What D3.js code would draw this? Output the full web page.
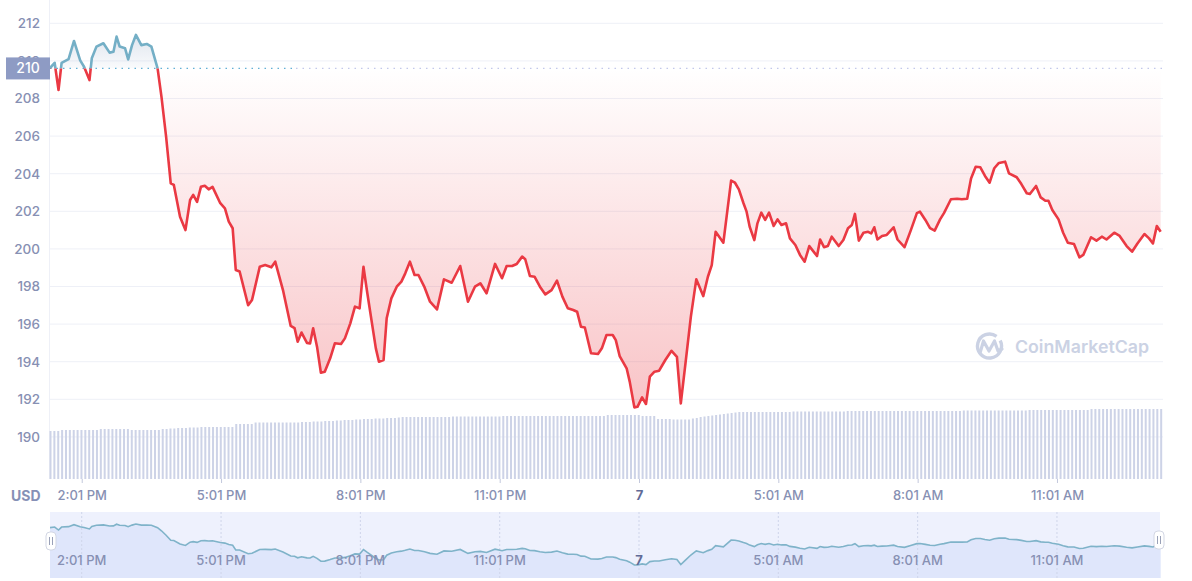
<!DOCTYPE html>
<html><head><meta charset="utf-8">
<script src="https://cdn.jsdelivr.net/npm/d3@7"></script>
<style>
html,body{margin:0;padding:0;background:#fff;}
svg{display:block;font-family:Inter,"Noto Sans",sans-serif;}
</style></head><body>
<svg id="chart" width="1192" height="581"></svg>
<script>
// ---- data ----
const minutes = [
  0,6,11,15,24,31,39,44,51,54,
  60,69,77,82,86,90,97,101,106,111,
  118,125,131,139,144,150,156,160,168,175,
  181,185,190,195,200,205,210,220,226,231,
  236,240,245,256,261,271,278,286,291,301,
  311,316,320,325,332,336,340,345,350,355,
  362,368,376,381,388,394,400,405,410,416,
  421,425,431,435,441,448,454,459,465,471,
  476,484,491,500,509,519,530,540,549,556,
  564,575,584,590,597,603,610,614,620,626,
  633,640,648,655,662,669,676,681,686,691,
  699,708,713,719,727,731,736,745,749,755,
  759,765,770,775,781,787,795,803,810,815,
  821,828,835,844,850,855,860,870,880,885,
  890,896,900,904,910,914,919,924,929,935,
  940,945,951,956,963,969,975,981,991,995,
  1000,1005,1010,1019,1025,1031,1036,1040,1045,1051,
  1057,1061,1065,1069,1075,1081,1090,1095,1104,1112,
  1120,1124,1131,1137,1143,1150,1155,1164,1172,1178,
  1185,1190,1196,1202,1208,1214,1220,1226,1234,1239,
  1249,1255,1262,1266,1274,1280,1286,1290,1295,1303,
  1309,1315,1323,1330,1335,1345,1352,1359,1365,1375,
  1382,1391,1398,1405,1414,1420,1425,1430,1435
];
const prices = [
  209.62,209.9,208.45,209.9,210.1,211.06,210.03,209.69,208.98,210.14,
  210.76,210.94,210.44,210.49,211.29,210.76,210.67,210.08,210.84,211.38,
  210.84,210.9,210.76,209.6,208.1,205.97,203.49,203.4,201.71,201.0,
  202.6,202.87,202.5,203.3,203.36,203.17,203.3,202.43,202.16,201.45,
  201.1,198.88,198.8,197.0,197.28,199.05,199.14,199.02,199.32,197.81,
  195.9,195.78,195.06,195.55,195.0,194.97,195.78,194.8,193.41,193.46,
  194.18,194.98,194.94,195.24,196.04,196.93,196.84,199.05,197.64,196.04,
  194.71,194.0,194.09,196.31,197.37,197.99,198.26,198.7,199.32,198.61,
  198.61,197.95,197.19,196.78,198.38,198.2,199.09,197.19,197.99,198.17,
  197.64,199.2,198.44,199.09,199.09,199.2,199.59,199.45,198.56,198.52,
  197.99,197.58,197.81,198.31,197.46,196.84,196.75,196.66,195.86,195.82,
  194.45,194.41,194.71,195.42,195.42,195.15,194.3,193.65,192.94,191.57,
  191.6,192.1,191.75,193.2,193.47,193.52,194.09,194.58,194.26,191.78,
  193.9,196.4,198.38,197.49,198.52,199.14,200.91,200.33,203.63,203.52,
  203.17,202.43,201.98,201.18,200.47,201.36,201.93,201.54,201.93,201.22,
  201.57,201.27,201.36,200.56,200.21,199.68,199.32,200.15,199.62,200.5,
  200.09,200.15,200.65,200.15,200.47,201.1,201.27,201.86,200.44,200.86,
  200.91,200.82,201.15,200.5,200.69,200.74,201.15,200.5,200.09,200.97,
  201.9,201.98,201.54,201.1,200.97,201.57,201.9,202.64,202.67,202.64,
  202.67,203.75,204.37,204.34,203.88,203.52,204.29,204.57,204.64,204.02,
  203.81,203.45,202.96,202.92,203.35,202.74,202.56,202.56,202.07,201.57,
  200.86,200.33,200.26,199.55,199.68,200.62,200.44,200.65,200.5,200.86,
  200.69,200.15,199.85,200.29,200.79,200.56,200.29,201.22,200.91
];
// 24h volume (billions USD), one bar per 5 minutes
const volumeIntervalMinutes = 5;
const volumes = [
  0.96,0.96,0.96,
  0.98,0.98,0.98,0.98,0.98,0.98,0.98,0.98,0.98,0.98,
  1.00,1.00,1.00,1.00,1.00,1.00,1.00,1.00,
  0.98,0.98,0.98,0.98,0.98,0.98,0.98,0.98,
  1.00,1.00,1.01,1.01,1.02,1.02,1.02,1.03,1.03,1.03,
  1.04,1.04,1.04,1.04,1.04,1.04,1.04,1.04,1.04,
  1.10,1.10,1.10,1.10,1.10,
  1.13,1.13,1.13,1.13,1.13,1.13,1.13,1.13,1.13,1.13,1.13,1.13,
  1.14,1.14,1.14,1.15,1.15,1.15,1.16,1.16,1.16,1.17,1.17,1.18,1.18,
  1.18,1.19,1.19,1.20,1.20,1.20,1.21,1.21,1.21,1.22,1.22,1.22,1.23,
  1.24,1.24,1.24,1.24,1.24,1.24,1.24,1.24,1.24,1.24,1.24,1.24,1.24,
  1.25,1.25,1.25,1.25,1.25,1.25,1.25,1.25,1.25,1.25,1.25,1.25,1.25,
  1.26,1.26,1.26,1.26,1.26,1.26,1.26,1.26,1.26,1.26,1.26,1.26,1.26,
  1.26,1.26,1.26,1.26,1.26,1.26,1.26,1.26,1.26,1.26,1.26,1.26,1.26,1.26,
  1.28,1.28,1.28,1.28,1.28,1.28,1.28,1.28,1.28,
  1.26,1.26,1.26,1.26,
  1.20,1.20,1.20,1.20,1.19,1.19,1.19,1.19,1.19,
  1.21,1.22,1.24,1.25,1.26,1.27,1.28,1.29,1.30,1.31,1.32,1.33,
  1.34,1.34,1.34,1.34,1.34,1.34,1.34,1.34,1.34,1.34,1.34,1.34,1.34,1.34,
  1.35,1.35,1.35,1.35,1.35,1.35,1.35,1.35,1.35,1.35,1.35,1.35,1.35,1.35,
  1.36,1.36,1.36,1.36,1.36,1.36,1.36,1.36,1.36,1.36,1.36,1.36,1.36,1.36,
  1.36,1.36,1.36,1.36,1.36,1.36,1.36,1.36,1.36,1.36,1.36,1.36,1.36,1.36,1.36,1.36,
  1.37,1.37,1.37,1.37,1.37,1.37,1.37,1.37,1.37,1.37,1.37,1.37,1.37,1.37,1.37,1.37,1.37,
  1.38,1.38,1.38,1.38,1.38,1.38,1.38,1.38,1.38,1.38,1.38,1.38,1.38,1.38,1.38,1.38,
  1.40,1.40,1.40,1.40,1.40,1.40,1.40,1.40,1.40,1.40,1.40,1.40,1.40,1.40,1.40,1.40,1.40,1.40,1.40
];
const tickMinutes = [41,221,401,581,761,941,1121,1301];
const tickLabels = ["2:01 PM","5:01 PM","8:01 PM","11:01 PM","7","5:01 AM","8:01 AM","11:01 AM"];
const yTicks = [190,192,194,196,198,200,202,204,206,208,210,212];
const basePrice = 209.6;
const totalMinutes = 1438;

// ---- chart ----
const svg = d3.select("#chart");
const L = 50, R = 1163, B = 479;
const x = d3.scaleLinear().domain([0, totalMinutes]).range([L, R]);
const y = d3.scaleLinear().domain([190, 212]).range([436.9, 23.3]);
const yVol = d3.scaleLinear().domain([0, 2]).range([B, 379]);
const yNav = d3.scaleLinear().domain([d3.min(prices), d3.max(prices)]).range([565, 524]);
const data = minutes.map((m, i) => ({m, p: prices[i]}));
const yBase = y(basePrice);
const labelColor = "#8790b3";

const defs = svg.append("defs");
const rg = defs.append("linearGradient").attr("id","redGrad").attr("gradientUnits","userSpaceOnUse")
  .attr("x1",0).attr("x2",0).attr("y1",yBase).attr("y2",y(d3.min(prices)));
rg.append("stop").attr("offset",0).attr("stop-color","#ea3943").attr("stop-opacity",0.0);
rg.append("stop").attr("offset",1).attr("stop-color","#ea3943").attr("stop-opacity",0.3);
const bg = defs.append("linearGradient").attr("id","blueGrad").attr("gradientUnits","userSpaceOnUse")
  .attr("x1",0).attr("x2",0).attr("y1",y(d3.max(prices))).attr("y2",yBase);
bg.append("stop").attr("offset",0).attr("stop-color","#b9c6da").attr("stop-opacity",0.45);
bg.append("stop").attr("offset",1).attr("stop-color","#b9c6da").attr("stop-opacity",0.08);
defs.append("clipPath").attr("id","clipAbove").append("rect")
  .attr("x",L).attr("y",0).attr("width",R-L).attr("height",yBase);
defs.append("clipPath").attr("id","clipBelow").append("rect")
  .attr("x",L).attr("y",yBase).attr("width",R-L).attr("height",B-yBase);

// grid
svg.append("g").selectAll("line").data(yTicks).join("line")
  .attr("x1",L).attr("x2",R).attr("y1",d=>y(d)).attr("y2",d=>y(d))
  .attr("stroke","#eef0f7").attr("stroke-width",1);
svg.append("line").attr("x1",L-0.5).attr("x2",L-0.5).attr("y1",0).attr("y2",B)
  .attr("stroke","#eef0f7");

// y axis labels
const yAxis = svg.append("g").attr("transform",`translate(${L-10},0)`)
  .call(d3.axisLeft(y).tickValues(yTicks).tickSize(0).tickPadding(0).tickFormat(d3.format("d")));
yAxis.select(".domain").remove();
yAxis.selectAll("text").attr("fill",labelColor).attr("font-size",13.5).attr("font-weight",500)
  .attr("font-family","Inter,'Noto Sans',sans-serif");

// volume bars
svg.append("g").selectAll("rect").data(volumes).join("rect")
  .attr("x",(d,i)=>x(i*volumeIntervalMinutes)-0.5)
  .attr("width",2)
  .attr("y",d=>yVol(d))
  .attr("height",d=>B-yVol(d))
  .attr("fill","#cdd3e7");

// areas
const area = d3.area().x(d=>x(d.m)).y0(yBase).y1(d=>y(d.p));
svg.append("path").datum(data).attr("d",area).attr("fill","url(#blueGrad)").attr("clip-path","url(#clipAbove)");
svg.append("path").datum(data).attr("d",area).attr("fill","url(#redGrad)").attr("clip-path","url(#clipBelow)");

// baseline dotted
svg.append("line").attr("x1",L).attr("x2",293).attr("y1",yBase).attr("y2",yBase)
  .attr("stroke","#62b0d6").attr("stroke-width",1.2).attr("stroke-dasharray","1.5,5");
svg.append("line").attr("x1",296).attr("x2",R).attr("y1",yBase).attr("y2",yBase)
  .attr("stroke","#c2c8ea").attr("stroke-width",1.2).attr("stroke-dasharray","1.5,5");

// lines
const line = d3.line().x(d=>x(d.m)).y(d=>y(d.p));
svg.append("path").datum(data).attr("d",line).attr("fill","none").attr("stroke","#74afc6")
  .attr("stroke-width",2.6).attr("stroke-linejoin","round").attr("clip-path","url(#clipAbove)");
svg.append("path").datum(data).attr("d",line).attr("fill","none").attr("stroke","#ea3943")
  .attr("stroke-width",2.6).attr("stroke-linejoin","round").attr("clip-path","url(#clipBelow)");

// base badge
svg.append("rect").attr("x",6).attr("y",yBase-11).attr("width",44).attr("height",22).attr("fill","#8e9bc4");
svg.append("text").attr("x",28).attr("y",yBase).attr("dy","0.36em").attr("text-anchor","middle")
  .attr("fill","#fff").attr("font-size",14).attr("font-weight",500).text(d3.format("d")(Math.round(basePrice)));

// x axis
const xAxis = svg.append("g").attr("transform",`translate(0,${B})`)
  .call(d3.axisBottom(x).tickValues(tickMinutes).tickSize(4).tickPadding(8).tickFormat((d,i)=>tickLabels[i]));
xAxis.select(".domain").remove();
xAxis.selectAll("line").attr("stroke","#c3c8dc");
xAxis.selectAll("text").attr("fill",(d,i)=>tickLabels[i]==="7"?"#616b97":labelColor)
  .attr("font-weight",(d,i)=>tickLabels[i]==="7"?700:500)
  .attr("font-size",13).attr("font-family","Inter,'Noto Sans',sans-serif");

svg.append("text").attr("x",11).attr("y",501).attr("fill","#8690b6").attr("font-size",14)
  .attr("font-weight",700).text("USD");

// watermark
const wm = svg.append("g").attr("fill","none").attr("stroke","#cbd2e4");
wm.append("path").attr("d",d3.arc()({innerRadius:12,outerRadius:12,startAngle:0.35*Math.PI,endAngle:2.2*Math.PI}))
  .attr("transform","translate(989.5,346)").attr("stroke-width",3.4);
wm.append("path").attr("d","M980,353 L983.5,341 L989,351 L994.5,341 L998,351 L1002,349")
  .attr("stroke-width",3.2).attr("stroke-linejoin","round").attr("stroke-linecap","round");
svg.append("text").attr("x",1015).attr("y",353).attr("fill","#cbd2e4").attr("font-size",17.5)
  .attr("font-weight",600).attr("textLength",134).attr("lengthAdjust","spacingAndGlyphs").text("CoinMarketCap");

// navigator
const NT = 512, NB = 578, NR = 1160;
svg.append("rect").attr("x",L).attr("y",NT).attr("width",NR-L).attr("height",NB-NT).attr("fill","#eef1fd");
const navArea = d3.area().x(d=>x(d.m)).y0(NB).y1(d=>yNav(d.p));
svg.append("path").datum(data).attr("d",navArea).attr("fill","#dfe6fb");
svg.append("g").selectAll("line").data(tickMinutes).join("line")
  .attr("x1",d=>x(d)).attr("x2",d=>x(d)).attr("y1",NT).attr("y2",NB)
  .attr("stroke","#cfd5ea").attr("stroke-dasharray","2,2");
svg.append("path").datum(data).attr("d",d3.line().x(d=>x(d.m)).y(d=>yNav(d.p)))
  .attr("fill","none").attr("stroke","#7fb3c9").attr("stroke-width",1.6);
svg.append("g").selectAll("text").data(tickMinutes).join("text")
  .attr("x",d=>x(d)).attr("y",565).attr("text-anchor","middle")
  .attr("fill",(d,i)=>tickLabels[i]==="7"?"#616b97":labelColor)
  .attr("font-weight",(d,i)=>tickLabels[i]==="7"?700:500).attr("font-size",13)
  .text((d,i)=>tickLabels[i]);
// handles
[[51,541],[1159,540]].forEach(([cx,cy])=>{
  svg.append("rect").attr("x",cx-5).attr("y",cy-9).attr("width",10).attr("height",18).attr("rx",4)
    .attr("fill","#fff").attr("stroke","#d3d7e4");
  [-1.5,1.5].forEach(o=>svg.append("line").attr("x1",cx+o).attr("x2",cx+o).attr("y1",cy-4).attr("y2",cy+4)
    .attr("stroke","#9aa1b8").attr("stroke-width",1));
});
</script>
</body></html>
